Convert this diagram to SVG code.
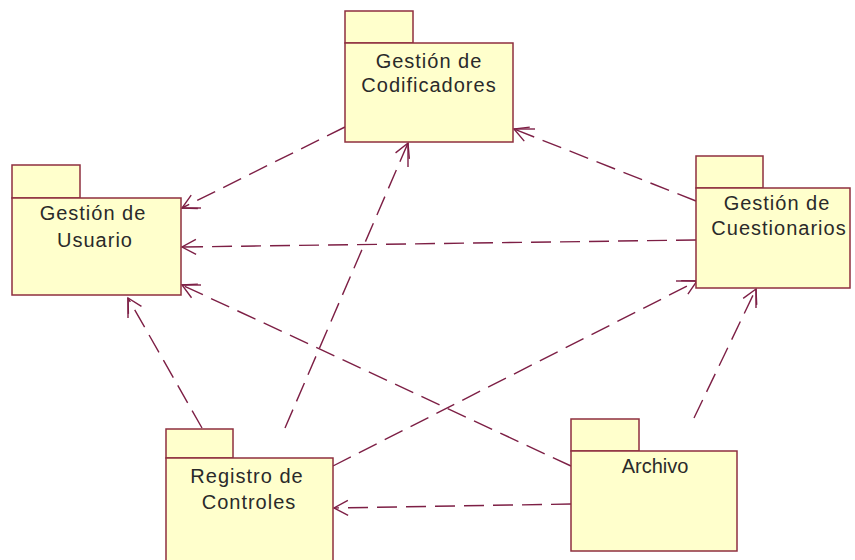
<svg xmlns="http://www.w3.org/2000/svg" width="855" height="560" viewBox="0 0 855 560">
  <style>
    .pkg rect { fill: #ffffcc; stroke: #8f2f3f; stroke-width: 1.5; }
    .pkg text { font-family: "Liberation Sans", Arial, sans-serif; font-size: 20px; fill: #2a2a2a; text-anchor: middle; letter-spacing: 1px; }
    .pkg text.tight { letter-spacing: 0; }
    .dep { fill: none; stroke: #7d1f45; stroke-width: 1.4; stroke-dasharray: 20 9; }
    .stub { stroke: #7d1f45; stroke-width: 1.4; }
  </style>
  <defs>
    <marker id="open" viewBox="-16 -9 18 18" refX="0" refY="0" markerWidth="18" markerHeight="18" markerUnits="userSpaceOnUse" orient="auto">
      <path d="M-14,-7.5 L0,0 L-14,7.5" fill="none" stroke="#7d1f45" stroke-width="1.4"/>
    </marker>
  </defs>

  <rect width="855" height="560" fill="#ffffff"/>

  <!-- dependency connectors -->
  <g id="connectors">
    <line class="dep" x1="345" y1="127" x2="182" y2="208" marker-end="url(#open)"/>
    <line class="dep" x1="696" y1="240" x2="182" y2="247" marker-end="url(#open)"/>
    <line class="dep" x1="696" y1="201" x2="514" y2="129" marker-end="url(#open)"/>
    <line class="dep" x1="571" y1="466" x2="182" y2="285" marker-end="url(#open)"/>
    <line class="dep" x1="202" y1="428" x2="128" y2="298" marker-end="url(#open)"/>
    <line class="dep" x1="285" y1="428" x2="408" y2="143" marker-end="url(#open)"/>
    <line class="dep" x1="333" y1="466" x2="697" y2="281" marker-end="url(#open)"/>
    <line class="dep" x1="694" y1="418" x2="756" y2="289" marker-end="url(#open)"/>
    <line class="dep" x1="571" y1="504" x2="334" y2="508" marker-end="url(#open)"/>
    <!-- short solid ticks at the arrow tips -->
    <line class="stub" x1="182" y1="208" x2="201" y2="208"/>
    <line class="stub" x1="182" y1="285" x2="201" y2="285"/>
    <line class="stub" x1="514" y1="129" x2="535" y2="129"/>
    <line class="stub" x1="408" y1="143" x2="408" y2="167"/>
    <line class="stub" x1="676" y1="281" x2="697" y2="281"/>
    <line class="stub" x1="756" y1="289" x2="756" y2="308"/>
    <line class="stub" x1="128" y1="298" x2="128" y2="318"/>
  </g>

  <g id="gestion-codificadores" class="pkg">
    <rect x="345" y="11" width="68" height="32"/>
    <rect x="345" y="43" width="168" height="99"/>
    <text x="429" y="68">Gestión de</text>
    <text x="429" y="92">Codificadores</text>
  </g>

  <g id="gestion-usuario" class="pkg">
    <rect x="12" y="165" width="68" height="33"/>
    <rect x="12" y="198" width="169" height="97"/>
    <text x="93" y="220">Gestión de</text>
    <text x="95" y="247">Usuario</text>
  </g>

  <g id="gestion-cuestionarios" class="pkg">
    <rect x="696" y="156" width="67" height="32"/>
    <rect x="696" y="188" width="154" height="100"/>
    <text x="777" y="210">Gestión de</text>
    <text x="779" y="235">Cuestionarios</text>
  </g>

  <g id="registro-controles" class="pkg">
    <rect x="166" y="429" width="67" height="29"/>
    <rect x="166" y="458" width="167" height="110"/>
    <text x="247" y="483">Registro de</text>
    <text x="249" y="509">Controles</text>
  </g>

  <g id="archivo" class="pkg">
    <rect x="571" y="419" width="68" height="32"/>
    <rect x="571" y="451" width="166" height="100"/>
    <text class="tight" x="655" y="473">Archivo</text>
  </g>
</svg>
